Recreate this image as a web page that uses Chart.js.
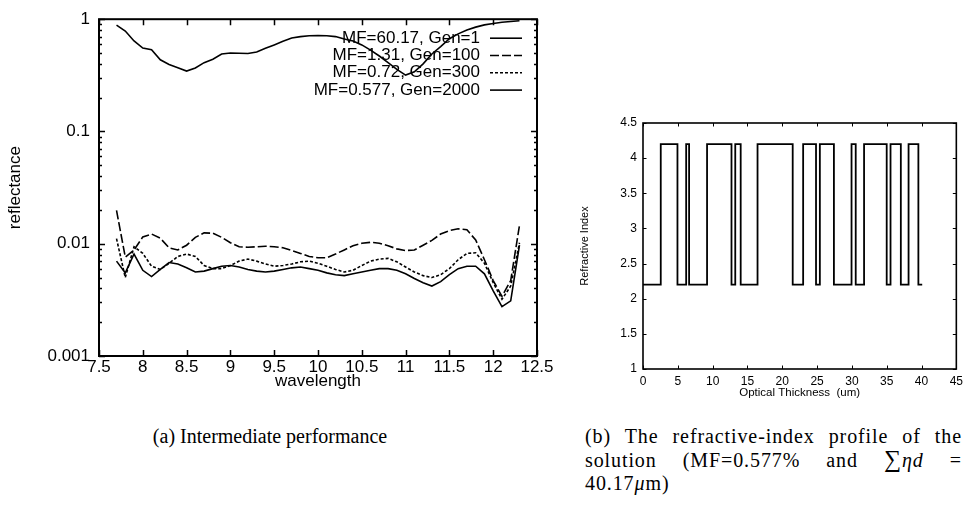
<!DOCTYPE html>
<html>
<head>
<meta charset="utf-8">
<script src="https://cdn.jsdelivr.net/npm/chart.js@4.4.0/dist/chart.umd.min.js"></script>
<style>
  body { margin: 0; background: #fff; width: 968px; height: 519px; position: relative; overflow: hidden; }
  #left { position: absolute; left: 0; top: 0; }
  #right { position: absolute; left: 575px; top: 105px; }
  .cap { position: absolute; font-family: "Liberation Serif", serif; font-size: 20px; line-height: 23.5px; color: #000; }
  #capA { left: 100px; width: 340px; top: 425px; text-align: center; }
  #capB { left: 585px; width: 377px; top: 425px; letter-spacing: 0.9px; }
  #capB div { text-align: justify; text-align-last: justify; height: 23.5px; }
  #capB div.last { text-align-last: left; }
</style>
</head>
<body>
<canvas id="left" width="560" height="400"></canvas>
<canvas id="right" width="393" height="300"></canvas>
<div class="cap" id="capA">(a) Intermediate performance</div>
<div class="cap" id="capB">
  <div>(b) The refractive-index profile of the</div>
  <div>solution (MF=0.577% and <span style="font-size:24px; line-height:20px">&sum;</span><i>&eta;d</i> =</div>
  <div class="last">40.17<i>&mu;</i>m)</div>
</div>
<script>
// (a) reflectance vs wavelength
const wavelength = [7.7, 7.8, 7.9, 8.0, 8.1, 8.2, 8.3, 8.4, 8.5, 8.6, 8.7, 8.8, 8.9, 9.0, 9.1, 9.2,
  9.3, 9.4, 9.5, 9.6, 9.7, 9.8, 9.9, 10.0, 10.1, 10.2, 10.3, 10.4, 10.5, 10.6, 10.7, 10.8, 10.9,
  11.0, 11.1, 11.2, 11.3, 11.4, 11.5, 11.6, 11.7, 11.8, 11.9, 12.0, 12.1, 12.2, 12.3]

const gen1 = [0.885, 0.785, 0.64, 0.553, 0.535, 0.435, 0.395, 0.37, 0.345, 0.368, 0.41, 0.44, 0.49,
  0.5, 0.498, 0.495, 0.51, 0.55, 0.59, 0.635, 0.68, 0.70, 0.712, 0.714, 0.712, 0.70, 0.665, 0.64,
  0.59, 0.53, 0.47, 0.41, 0.357, 0.318, 0.34, 0.40, 0.49, 0.57, 0.67, 0.74, 0.80, 0.85, 0.89,
  0.915, 0.94, 0.955, 0.97]

const gen100 = [0.0198, 0.0076, 0.0088, 0.0115, 0.0122, 0.0112, 0.0092, 0.0088, 0.0097, 0.0114,
  0.0125, 0.0124, 0.0114, 0.0102, 0.0094, 0.0093, 0.0094, 0.0095, 0.0094, 0.0092, 0.0087, 0.0082,
  0.0077, 0.0075, 0.0075, 0.0081, 0.0088, 0.0096, 0.0101, 0.0103, 0.0101, 0.0096, 0.009, 0.0087,
  0.0088, 0.0097, 0.0107, 0.0122, 0.0131, 0.0136, 0.0133, 0.0108, 0.0072, 0.0047, 0.0034, 0.0047,
  0.0146]

const gen300 = [0.0111, 0.005, 0.0094, 0.0082, 0.0063, 0.0059, 0.0067, 0.0077, 0.0081, 0.0077,
  0.0064, 0.006, 0.006, 0.0064, 0.007, 0.0073, 0.007, 0.0066, 0.0063, 0.0064, 0.0066, 0.0069,
  0.007, 0.0067, 0.0063, 0.0059, 0.0056, 0.0058, 0.0064, 0.007, 0.0073, 0.0074, 0.0069, 0.0062,
  0.0056, 0.0052, 0.005, 0.0053, 0.006, 0.0072, 0.0082, 0.0083, 0.0067, 0.0045, 0.0032, 0.0042,
  0.0102]

const gen2000 = [0.007, 0.0055, 0.0081, 0.0058, 0.0051, 0.0059, 0.0068, 0.0066, 0.0061, 0.0056,
  0.0057, 0.006, 0.0063, 0.0064, 0.0062, 0.0059, 0.0057, 0.0056, 0.0057, 0.0059, 0.0061, 0.0062,
  0.006, 0.0058, 0.0055, 0.0053, 0.0052, 0.0054, 0.0056, 0.0058, 0.006, 0.006, 0.0058, 0.0054,
  0.0049, 0.0045, 0.0042, 0.0046, 0.0053, 0.006, 0.0063, 0.0063, 0.0054, 0.0038, 0.00275, 0.0031,
  0.0097]

const seriesNames = ['MF=60.17, Gen=1', 'MF=1.31, Gen=100', 'MF=0.72, Gen=300', 'MF=0.577, Gen=2000']
const yMajors = [0.001, 0.01, 0.1, 1]
const yLabels = ['0.001', '0.01', '0.1', '1']

// (b) refractive index profile (step changes)
const thickness = [0, 2.55, 4.95, 6.2, 6.62, 9.2, 12.71, 13.25, 14.03, 16.45, 21.5, 23.0, 24.85,
  25.4, 27.42, 29.95, 30.55, 31.75, 35.0, 35.55, 37.03, 38.14, 39.55, 40.1]
const refIndex = [2.2, 4.2, 2.2, 4.2, 2.2, 4.2, 2.2, 4.2, 2.2, 4.2, 2.2, 4.2, 2.2,
  4.2, 2.2, 4.2, 2.2, 4.2, 2.2, 4.2, 2.2, 4.2, 2.2, 2.2]

const sans = "'Liberation Sans', Arial, sans-serif"

function isMajor(v) {
  let l = Math.log10(v)
  return Math.abs(l - Math.round(l)) < 1e-6
}

// gnuplot style box with inward ticks on every side
const frame = {
  id: 'frame',
  afterDatasetsDraw(chart, args, opts) {
    const ctx = chart.ctx
    const a = chart.chartArea
    const x = chart.scales.x
    const y = chart.scales.y
    ctx.save()
    ctx.strokeStyle = '#000'
    ctx.lineWidth = opts.tickWidth
    ctx.beginPath()
    x.ticks.forEach(t => {
      let px = Math.round(x.getPixelForValue(t.value)) + 0.5
      ctx.moveTo(px, a.bottom); ctx.lineTo(px, a.bottom - opts.major)
      ctx.moveTo(px, a.top); ctx.lineTo(px, a.top + opts.major)
    })
    y.ticks.forEach(t => {
      let len = (!opts.logY || isMajor(t.value)) ? opts.major : opts.minor
      let py = Math.round(y.getPixelForValue(t.value)) + 0.5
      ctx.moveTo(a.left, py); ctx.lineTo(a.left + len, py)
      ctx.moveTo(a.right, py); ctx.lineTo(a.right - len, py)
    })
    ctx.stroke()
    ctx.lineWidth = opts.border
    ctx.strokeRect(a.left, a.top, a.right - a.left, a.bottom - a.top)
    ctx.restore()
  }
}

// key in the top right corner: text first, line sample after it
const keyBox = {
  id: 'keyBox',
  afterDatasetsDraw(chart, args, opts) {
    const ctx = chart.ctx
    const a = chart.chartArea
    ctx.save()
    ctx.font = opts.font
    ctx.textAlign = 'right'
    ctx.textBaseline = 'middle'
    chart.data.datasets.forEach((ds, i) => {
      let yy = a.top + opts.top + i * opts.row
      ctx.fillStyle = '#000'
      ctx.fillText(ds.label, a.right - opts.textGap, yy)
      ctx.strokeStyle = '#000'
      ctx.lineWidth = ds.borderWidth
      ctx.setLineDash(ds.borderDash || [])
      ctx.beginPath()
      ctx.moveTo(a.right - opts.lineStart, yy)
      ctx.lineTo(a.right - opts.lineEnd, yy)
      ctx.stroke()
    })
    ctx.restore()
  }
}

function pts(xs, ys) {
  return xs.map((v, i) => ({ x: v, y: ys[i] }))
}

const plainNum = (v) => String(v)

const dashes = [[], [9, 3], [3, 2], []]
const curves = [gen1, gen100, gen300, gen2000]

new Chart(document.getElementById('left'), {
  type: 'line',
  data: {
    datasets: curves.map((c, i) => ({
      label: seriesNames[i],
      data: pts(wavelength, c),
      borderColor: '#000',
      borderWidth: 1.6,
      borderDash: dashes[i],
      pointRadius: 0,
      tension: 0,
      fill: false
    }))
  },
  options: {
    responsive: false,
    animation: false,
    layout: { padding: { top: 14, right: 23, left: 0, bottom: 0 } },
    plugins: {
      legend: { display: false },
      tooltip: { enabled: false },
      frame: { tickWidth: 1.5, major: 6, minor: 3, border: 2, logY: true },
      keyBox: { font: "17px " + sans, top: 19, row: 17.3, textGap: 57, lineStart: 47, lineEnd: 15 }
    },
    scales: {
      x: {
        type: 'linear', min: 7.5, max: 12.5,
        grid: { display: false, drawTicks: false },
        border: { display: false },
        ticks: { stepSize: 0.5, color: '#000', padding: 1, font: { family: sans, size: 17 }, maxRotation: 0, callback: plainNum },
        title: { display: true, text: 'wavelength', color: '#000', font: { family: sans, size: 17 }, padding: { top: 0, bottom: 8 } },
        afterFit: (s) => { s.height = 44 }
      },
      y: {
        type: 'logarithmic', min: 0.001, max: 1,
        grid: { display: false, drawTicks: false },
        border: { display: false },
        afterBuildTicks: (s) => {
          let t = []
          for (let d = 0; d < 3; d++) {
            for (let m = 1; m < 10; m++) t.push({ value: yMajors[d] * m })
          }
          t.push({ value: 1 })
          s.ticks = t
        },
        ticks: {
          autoSkip: false, color: '#000', padding: 9, font: { family: sans, size: 17 },
          callback: (v) => {
            let k = yMajors.findIndex(m => Math.abs(m - v) < m * 1e-6)
            return k >= 0 ? yLabels[k] : ''
          }
        },
        title: { display: true, text: 'reflectance', color: '#000', font: { family: sans, size: 17 }, padding: { top: 5, bottom: 0 } },
        afterFit: (s) => { s.width = 99 }
      }
    }
  },
  plugins: [frame, keyBox]
})

new Chart(document.getElementById('right'), {
  type: 'line',
  data: {
    datasets: [{
      label: 'profile',
      data: pts(thickness, refIndex),
      stepped: true,
      borderColor: '#000',
      borderWidth: 1.8,
      pointRadius: 0,
      fill: false
    }]
  },
  options: {
    responsive: false,
    animation: false,
    layout: { padding: { top: 18, right: 10, left: 0, bottom: 0 } },
    plugins: {
      legend: { display: false },
      tooltip: { enabled: false },
      frame: { tickWidth: 1, major: 3.5, minor: 3.5, border: 1.6, logY: false }
    },
    scales: {
      x: {
        type: 'linear', min: 0, max: 45,
        grid: { display: false, drawTicks: false },
        border: { display: false },
        ticks: { stepSize: 5, color: '#000', padding: 5, font: { family: sans, size: 12 }, maxRotation: 0, callback: plainNum },
        title: { display: true, text: 'Optical Thickness  (um)', color: '#000', font: { family: sans, size: 11.5 }, padding: { top: 0, bottom: 5 } },
        afterFit: (s) => { s.height = 36 }
      },
      y: {
        type: 'linear', min: 1, max: 4.5,
        grid: { display: false, drawTicks: false },
        border: { display: false },
        ticks: { stepSize: 0.5, color: '#000', padding: 6, font: { family: sans, size: 12 }, callback: plainNum },
        title: { display: true, text: 'Refractive Index', color: '#000', font: { family: sans, size: 11 }, padding: { top: 3, bottom: 0 } },
        afterFit: (s) => { s.width = 68 }
      }
    }
  },
  plugins: [frame]
})
</script>
</body>
</html>
